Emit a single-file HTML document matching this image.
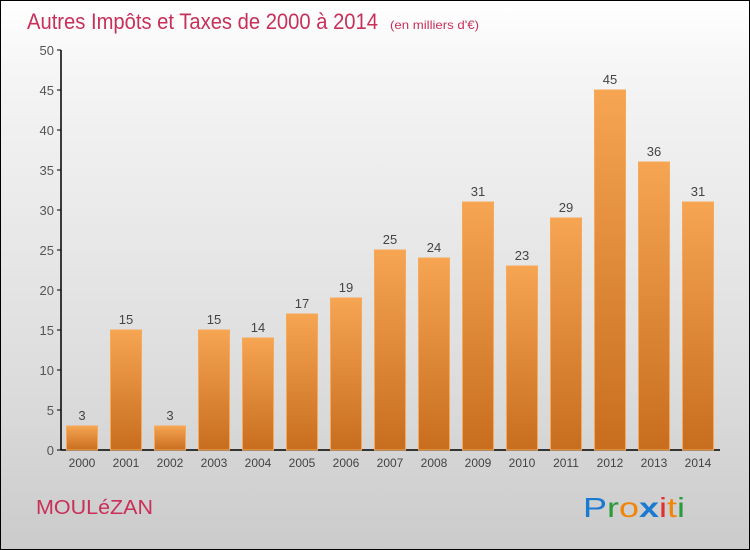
<!DOCTYPE html>
<html><head><meta charset="utf-8"><style>
body{margin:0}
#wrap{position:relative;width:748px;height:548px;border:1px solid #000;background:linear-gradient(#fff,#f4f4f4 15%,#dcdcdc 70%,#cbcbcb);font-family:"Liberation Sans",sans-serif;overflow:hidden}
</style></head><body>
<div id="wrap">
<svg width="748" height="548" viewBox="1 1 748 548">
<defs><linearGradient id="bg" x1="0" y1="0" x2="0" y2="1"><stop offset="0" stop-color="#f6a552"/><stop offset="1" stop-color="#c76e1e"/></linearGradient></defs>
<text x="27" y="29" font-size="22" fill="#c8305a" textLength="351" lengthAdjust="spacingAndGlyphs">Autres Impôts et Taxes de 2000 à 2014</text>
<text x="390" y="29" font-size="12" fill="#c8305a" textLength="89" lengthAdjust="spacingAndGlyphs">(en milliers d'€)</text>
<g id="axes"></g><g id="bars"></g>
<text x="36" y="514" font-size="20" fill="#c8305a" textLength="117" lengthAdjust="spacingAndGlyphs">MOULéZAN</text>
<text x="583" y="517" font-size="28" textLength="102" lengthAdjust="spacingAndGlyphs"><tspan fill="#1a7ad0">P</tspan><tspan fill="#2a9a3a">r</tspan><tspan fill="#f0850a">o</tspan><tspan fill="#1a7ad0" font-weight="bold">x</tspan><tspan fill="#e03030">i</tspan><tspan fill="#f0850a">t</tspan><tspan fill="#2a9a3a">i</tspan></text>
</svg></div>
<script>
const years=["2000","2001","2002","2003","2004","2005","2006","2007","2008","2009","2010","2011","2012","2013","2014"];
const values=[3,15,3,15,14,17,19,25,24,31,23,29,45,36,31];
const yTicks=[0,5,10,15,20,25,30,35,40,45,50];
const NS="http://www.w3.org/2000/svg";
const y=v=>450-v*8, x=i=>82+i*44;
function mk(t,a,txt){const e=document.createElementNS(NS,t);for(const k in a)e.setAttribute(k,a[k]);if(txt!=null)e.textContent=txt;return e;}
const ax=document.getElementById('axes'),bs=document.getElementById('bars');
let l=mk('line',{x1:61,y1:50,x2:61,y2:450,stroke:'#000','stroke-width':1.5});

ax.appendChild(l);
l=mk('line',{x1:61,y1:450,x2:720,y2:450,stroke:'#000','stroke-width':1.5});

ax.appendChild(l);
yTicks.forEach(v=>{ax.appendChild(mk('line',{x1:57,y1:y(v),x2:61,y2:y(v),stroke:'#000'}));
const t=mk('text',{x:54,y:y(v)+5,'font-size':13,fill:'#555','text-anchor':'end'},v);

ax.appendChild(t);});
years.forEach((yr,i)=>{const v=values[i];
const r=mk('rect',{x:x(i)-15.5,y:y(v),width:31,height:v*8,fill:'url(#bg)',stroke:'#f7a95a','stroke-width':1});

bs.appendChild(r);
const t=mk('text',{x:x(i),y:y(v)-6,'font-size':13,fill:'#444','text-anchor':'middle'},v);

bs.appendChild(t);
const k=mk('text',{x:x(i),y:467,'font-size':12,fill:'#444','text-anchor':'middle'},yr);

ax.appendChild(k);});
</script>
</body></html>
